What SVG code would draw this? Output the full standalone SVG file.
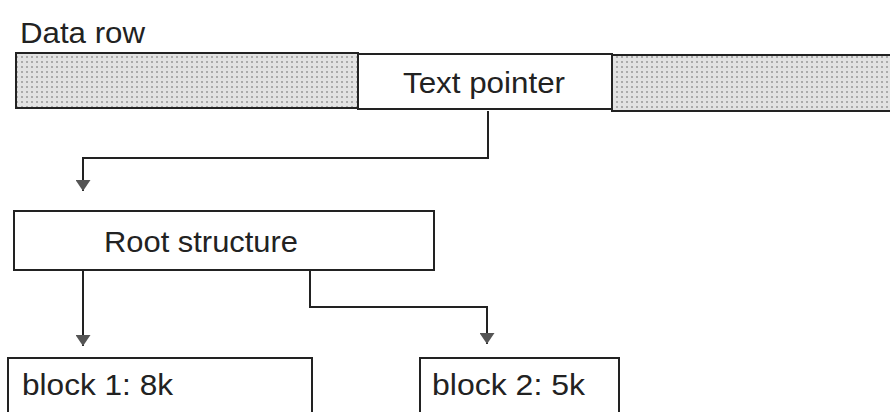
<svg xmlns="http://www.w3.org/2000/svg" width="890" height="412" viewBox="0 0 890 412">
  <style>
    .box { fill: #ffffff; stroke: #222; stroke-width: 2; }
    .shade { fill: url(#dots); stroke: #222; stroke-width: 2; }
    .lbl { font-family: "Liberation Sans", Arial, sans-serif; font-size: 30px; fill: #222; }
    .conn { fill: none; stroke: #222; stroke-width: 2; }
  </style>
  <defs>
    <pattern id="dots" width="5" height="5" patternUnits="userSpaceOnUse">
      <rect width="5" height="5" fill="#e2e2e2"/>
      <rect x="1" y="1" width="2" height="2" fill="#aaaaaa"/>
    </pattern>
    <marker id="arr" markerWidth="11" markerHeight="15" refX="11" refY="7.5" orient="auto" markerUnits="userSpaceOnUse" viewBox="0 0 11 15">
      <path d="M0 0 L11 7.5 L0 15 Z" fill="#555"/>
    </marker>
  </defs>
  <rect width="890" height="412" fill="#ffffff"/>

  <g id="data-row">
    <text class="lbl" x="20" y="43" textLength="125" lengthAdjust="spacingAndGlyphs">Data row</text>
    <rect class="shade" x="16" y="53" width="342" height="55"/>
    <rect class="box" x="358" y="54" width="254" height="55"/>
    <rect class="shade" x="612" y="55" width="290" height="56"/>
    <text class="lbl" x="403" y="93" textLength="162" lengthAdjust="spacingAndGlyphs">Text pointer</text>
  </g>

  <g id="root-structure">
    <rect class="box" x="14" y="211" width="420" height="59"/>
    <text class="lbl" x="104" y="252" textLength="194" lengthAdjust="spacingAndGlyphs">Root structure</text>
  </g>

  <g id="block1">
    <rect class="box" x="8" y="358" width="304" height="70"/>
    <text class="lbl" x="22" y="395" textLength="151" lengthAdjust="spacingAndGlyphs">block 1: 8k</text>
  </g>

  <g id="block2">
    <rect class="box" x="420" y="358" width="199" height="70"/>
    <text class="lbl" x="432" y="395" textLength="153" lengthAdjust="spacingAndGlyphs">block 2: 5k</text>
  </g>

  <g id="connectors">
    <path class="conn" d="M488 111 V158 H83 V191" marker-end="url(#arr)"/>
    <path class="conn" d="M83 270 V346" marker-end="url(#arr)"/>
    <path class="conn" d="M310 270 V307 H487 V344" marker-end="url(#arr)"/>
  </g>
</svg>
